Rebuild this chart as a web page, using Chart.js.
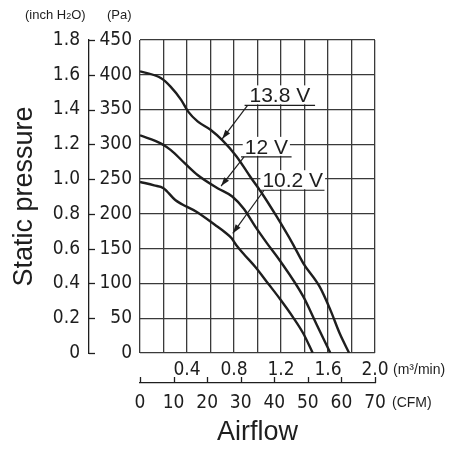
<!DOCTYPE html>
<html>
<head>
<meta charset="utf-8">
<script src="https://cdn.jsdelivr.net/npm/chart.js@4.4.0/dist/chart.umd.min.js"></script>
<style>
html, body { margin: 0; padding: 0; background: #fff; }
</style>
</head>
<body>
<canvas id="graph1" width="465" height="458"></canvas>
<script>
// airflow (m3/min) and static pressure (Pa)
var flow_138 = [0, 0.18, 0.26, 0.35, 0.41, 0.49, 0.6, 0.7, 0.82, 0.94, 1.04, 1.16, 1.3, 1.39, 1.53, 1.62, 1.7, 1.78];
var pa_138   = [405, 395, 383, 364, 347, 333, 321, 306, 283, 253, 229, 197, 157, 129, 95, 62, 28, 0];

var flow_12 = [0, 0.18, 0.26, 0.38, 0.49, 0.66, 0.785, 0.885, 0.98, 1.08, 1.19, 1.39, 1.5, 1.62];
var pa_12   = [313, 301, 292, 273, 256, 237, 225, 207, 182, 158, 133, 81, 42, 0];

var flow_102 = [0, 0.12, 0.2, 0.3, 0.48, 0.64, 0.72, 0.78, 0.82, 0.89, 0.98, 1.09, 1.19, 1.3, 1.39, 1.47];
var pa_102   = [246, 241, 237, 220, 203, 184, 174, 165, 155, 141, 124, 100, 78, 52, 28, 0];

var voltLabels = ['13.8 V', '12 V', '10.2 V'];

var narrow = "'Liberation Sans Narrow', 'DejaVu Sans Condensed', sans-serif";
var plain = "'Liberation Sans', Arial, sans-serif";
var ink = '#1e1e1e';

function pts(xs, ys) {
    return xs.map(function(v, i) { return {x: v, y: ys[i]}; });
}

// where each voltage label sits (axis units): underline from u0 to u1 at height uy, arrow tip at (tx, ty)
var callouts = [
    {u0: 0.89, u1: 1.49, uy: 356, tx: 0.70, ty: 308},
    {u0: 0.86, u1: 1.29, uy: 282, tx: 0.69, ty: 240},
    {u0: 1.03, u1: 1.57, uy: 234, tx: 0.79, ty: 172}
];

var extras = {
    id: 'extras',
    afterDatasetsDraw: function(chart) {
        var ctx = chart.ctx;
        var sx = chart.scales.x, sy = chart.scales.y;
        ctx.save();
        ctx.font = '21px ' + plain;
        ctx.textAlign = 'center';
        ctx.textBaseline = 'alphabetic';
        callouts.forEach(function(c, i) {
            var x0 = sx.getPixelForValue(c.u0), x1 = sx.getPixelForValue(c.u1);
            var py = sy.getPixelForValue(c.uy);
            var tx = sx.getPixelForValue(c.tx), ty = sy.getPixelForValue(c.ty);
            var cx = (x0 + x1) / 2;
            var w = ctx.measureText(voltLabels[i]).width;
            ctx.fillStyle = '#fff';
            ctx.fillRect(cx - w / 2 - 2, py - 20, w + 4, 19);
            ctx.fillStyle = ink;
            ctx.fillText(voltLabels[i], cx, py - 3);
            ctx.strokeStyle = ink;
            ctx.lineWidth = 1.2;
            ctx.beginPath();
            ctx.moveTo(x0, py); ctx.lineTo(x1, py);
            ctx.stroke();
            // leader + arrow head
            var sx0 = x0 + 3;
            ctx.beginPath();
            ctx.moveTo(sx0, py); ctx.lineTo(tx, ty);
            ctx.stroke();
            var a = Math.atan2(ty - py, tx - sx0);
            ctx.beginPath();
            ctx.moveTo(tx, ty);
            ctx.lineTo(tx - 9 * Math.cos(a) + 3 * Math.sin(a), ty - 9 * Math.sin(a) - 3 * Math.cos(a));
            ctx.lineTo(tx - 9 * Math.cos(a) - 3 * Math.sin(a), ty - 9 * Math.sin(a) + 3 * Math.cos(a));
            ctx.closePath();
            ctx.fill();
        });
        ctx.restore();
    },
    afterDraw: function(chart) {
        var ctx = chart.ctx;
        var x2 = chart.scales.x2, y2 = chart.scales.y2, sx = chart.scales.x;
        ctx.save();
        ctx.strokeStyle = ink;
        ctx.lineWidth = 1.3;
        // ticks on the inner side of the extra axes
        y2.ticks.forEach(function(t) {
            var p = Math.round(y2.getPixelForValue(t.value)) + 0.5;
            ctx.beginPath(); ctx.moveTo(y2.right, p); ctx.lineTo(y2.right + 6, p); ctx.stroke();
        });
        x2.ticks.forEach(function(t) {
            var p = Math.round(x2.getPixelForValue(t.value)) + 0.5;
            ctx.beginPath(); ctx.moveTo(p, x2.top); ctx.lineTo(p, x2.top - 6); ctx.stroke();
        });
        ctx.fillStyle = ink;
        ctx.textBaseline = 'middle';
        ctx.textAlign = 'left';
        ctx.font = '14px ' + plain;
        ctx.fillText('(m\u00b3/min)', sx.right + 18, 370);
        ctx.fillText('(CFM)', sx.right + 17, 403);
        ctx.font = '13px ' + plain;
        ctx.fillText('(inch H', 25, 15);
        var w = ctx.measureText('(inch H').width;
        ctx.font = '9px ' + plain;
        ctx.fillText('2', 25 + w, 17);
        var w2 = ctx.measureText('2').width;
        ctx.font = '13px ' + plain;
        ctx.fillText('O)', 25 + w + w2, 15);
        ctx.fillText('(Pa)', 107, 15);
        ctx.restore();
    }
};

var ctx = document.getElementById('graph1').getContext('2d');

var data = {
    datasets: [
        { label: voltLabels[0], data: pts(flow_138, pa_138) },
        { label: voltLabels[1], data: pts(flow_12, pa_12) },
        { label: voltLabels[2], data: pts(flow_102, pa_102) }
    ]
};

var tickFont = { family: narrow, size: 19 };

var options = {
    responsive: false,
    animation: false,
    layout: { padding: { left: 0, right: 90, top: 40, bottom: 0 } },
    plugins: { legend: { display: false }, tooltip: { enabled: false } },
    elements: {
        point: { radius: 0 },
        line: { borderColor: ink, borderWidth: 2.4, cubicInterpolationMode: 'monotone', fill: false }
    },
    scales: {
        x: {
            type: 'linear', position: 'bottom', weight: 0, min: 0, max: 2.0,
            ticks: {
                stepSize: 0.2, padding: 6, color: ink, font: tickFont, maxRotation: 0, autoSkip: false,
                callback: function(v, i) { return (i > 0 && i % 2 === 0) ? v.toFixed(1) : ''; }
            },
            grid: { color: '#3a3a3a', lineWidth: 1.3, drawTicks: false },
            border: { display: false },
            afterFit: function(s) { s.height = 30; }
        },
        x2: {
            type: 'linear', position: 'bottom', weight: 1, min: 0, max: 70,
            ticks: { stepSize: 10, padding: 9, color: ink, font: tickFont, maxRotation: 0, autoSkip: false },
            grid: { display: false, drawTicks: false },
            border: { display: true, color: ink, width: 1.3 },
            title: { display: true, text: 'Airflow', color: ink, font: { family: plain, size: 27 }, padding: { top: 0, bottom: 9 } },
            afterFit: function(s) { s.height = 75; }
        },
        y: {
            position: 'left', weight: 0, min: 0, max: 450,
            ticks: { stepSize: 50, padding: 8, color: ink, font: tickFont },
            grid: { color: '#3a3a3a', lineWidth: 1.3, drawTicks: false },
            border: { display: false },
            afterFit: function(s) { s.width = 51; }
        },
        y2: {
            position: 'left', weight: 1, min: 0, max: 1.8,
            ticks: {
                stepSize: 0.2, padding: 9, color: ink, font: tickFont,
                callback: function(v) { return v === 0 ? '0' : v.toFixed(1); }
            },
            grid: { display: false, drawTicks: false },
            border: { display: true, color: ink, width: 1.3 },
            title: { display: true, text: 'Static pressure', color: ink, font: { family: plain, size: 27 }, padding: { top: 8, bottom: 0 } },
            afterFit: function(s) { s.width = 89; }
        }
    }
};

var config = {
    type: 'scatter',
    data: data,
    options: Object.assign(options, { showLine: true }),
    plugins: [extras]
};

var graph1 = new Chart(ctx, config);
</script>
</body>
</html>
